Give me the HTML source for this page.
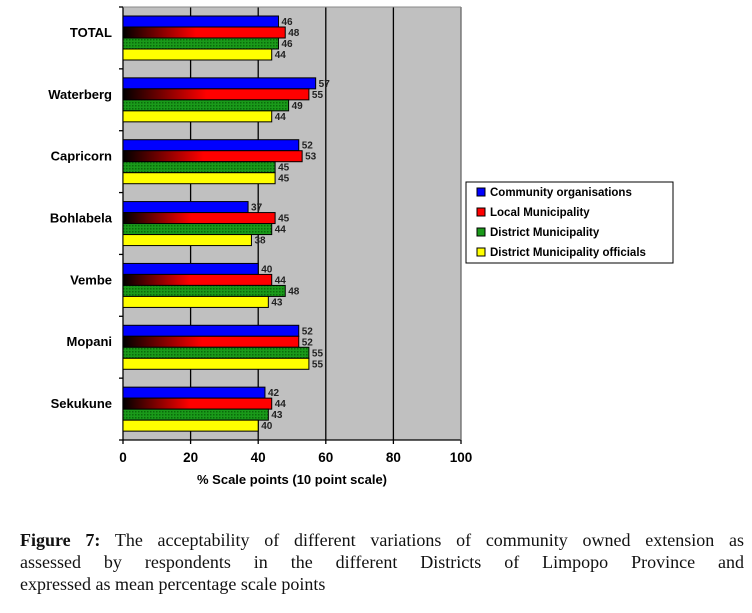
<!DOCTYPE html>
<html><head><meta charset="utf-8">
<style>
body{margin:0;background:#fff;width:752px;height:613px;overflow:hidden;font-family:"Liberation Sans",Arial,sans-serif;}
#cap{position:absolute;left:20px;top:529px;width:724px;font-family:"Liberation Serif",serif;font-size:18px;line-height:22px;color:#111;}
#cap div{text-align:justify;text-align-last:justify;white-space:nowrap;}
#cap div.last{text-align-last:left;}
</style></head><body>
<svg id="chart" width="752" height="520" style="position:absolute;left:0;top:0">
<defs>
<linearGradient id="redgrad" x1="0" x2="1" y1="0" y2="0"><stop offset="0" stop-color="#000"/><stop offset="0.45" stop-color="#f00"/><stop offset="1" stop-color="#f00"/></linearGradient>
<pattern id="greenpat" width="3" height="3" patternUnits="userSpaceOnUse"><rect width="3" height="3" fill="#1a9a1a"/><rect width="1.5" height="1.5" fill="#0a6a0a"/></pattern>
</defs>
</svg>
<div id="cap"><div><b>Figure 7:</b> The acceptability of different variations of community owned extension as</div><div>assessed by respondents in the different Districts of Limpopo Province and</div><div class="last">expressed as mean percentage scale points</div></div>
<script>
const categories=["TOTAL","Waterberg","Capricorn","Bohlabela","Vembe","Mopani","Sekukune"];
const seriesNames=["Community organisations","Local Municipality","District Municipality","District Municipality officials"];
const community=[46,57,52,37,40,52,42];
const localMun=[48,55,53,45,44,52,44];
const districtMun=[46,49,45,44,48,55,43];
const officials=[44,44,45,38,43,55,40];
const xTicks=[0,20,40,60,80,100];
const series=[community,localMun,districtMun,officials];
const fills=["#0000ff","url(#redgrad)","url(#greenpat)","#ffff00"];
const legFills=["#0000ff","#ff0000","#1a9a1a","#ffff00"];
const L=123,R=461,T=7,B=440;
const xs=v=>L+(v/100)*(R-L);
const catH=(B-T)/categories.length;
const NS="http://www.w3.org/2000/svg";
const svg=document.getElementById('chart');
function mk(tag,attrs,parent){const e=document.createElementNS(NS,tag);for(const k in attrs)e.setAttribute(k,attrs[k]);(parent||svg).appendChild(e);return e;}
let e=mk('rect',{x:L,y:T,width:R-L,height:B-T,fill:'#c0c0c0'});


xTicks.forEach(v=>{
  let g=mk('line',{x1:xs(v),x2:xs(v),y1:T,y2:B+4,stroke:'#000','stroke-width':1.3});
  
  
  let t=mk('text',{x:xs(v),y:462,'text-anchor':'middle','font-size':13.5,'font-weight':'bold',fill:'#000'});
  t.textContent=v;
  
  
});
mk('line',{x1:L,x2:R,y1:B,y2:B,stroke:'#000','stroke-width':1.3});
mk('line',{x1:L,x2:R,y1:T,y2:T,stroke:'#888','stroke-width':1});
mk('line',{x1:R,x2:R,y1:T,y2:B,stroke:'#888','stroke-width':1});
for(let k=0;k<=categories.length;k++){mk('line',{x1:L-4,x2:L,y1:T+k*catH,y2:T+k*catH,stroke:'#000','stroke-width':1.3});}
categories.forEach((c,i)=>{
  const top=T+i*catH+9;
  let t=mk('text',{x:112,y:T+i*catH+catH/2-1,'text-anchor':'end','font-size':13,'font-weight':'bold',fill:'#000'});
  t.textContent=c;
  
  
  series.forEach((s,j)=>{
    const y=top+j*11;
    let r=mk('rect',{x:L,y:y,width:xs(s[i])-L,height:11,fill:fills[j],stroke:'#000','stroke-width':1});
    
    
    let v=mk('text',{x:xs(s[i])+3,y:y+9,'font-size':10,'font-weight':'bold',fill:'#222'});
    v.textContent=s[i];
    
    
  });
});
let xt=mk('text',{x:292,y:484,'text-anchor':'middle','font-size':13,'font-weight':'bold',fill:'#000'});
xt.textContent="% Scale points (10 point scale)";


let lg=mk('g',{});


mk('rect',{x:466,y:182,width:207,height:81,fill:'#fff',stroke:'#000','stroke-width':1},lg);
seriesNames.forEach((n,j)=>{
  const y=193+j*20;
  let s=mk('rect',{x:477,y:y-5,width:8,height:8,fill:legFills[j],stroke:'#000','stroke-width':1},lg);
  
  
  let t=mk('text',{x:490,y:y+3,'font-size':11.5,'font-weight':'bold',fill:'#000'},lg);
  t.textContent=n;
  
  
});
</script>
</body></html>
